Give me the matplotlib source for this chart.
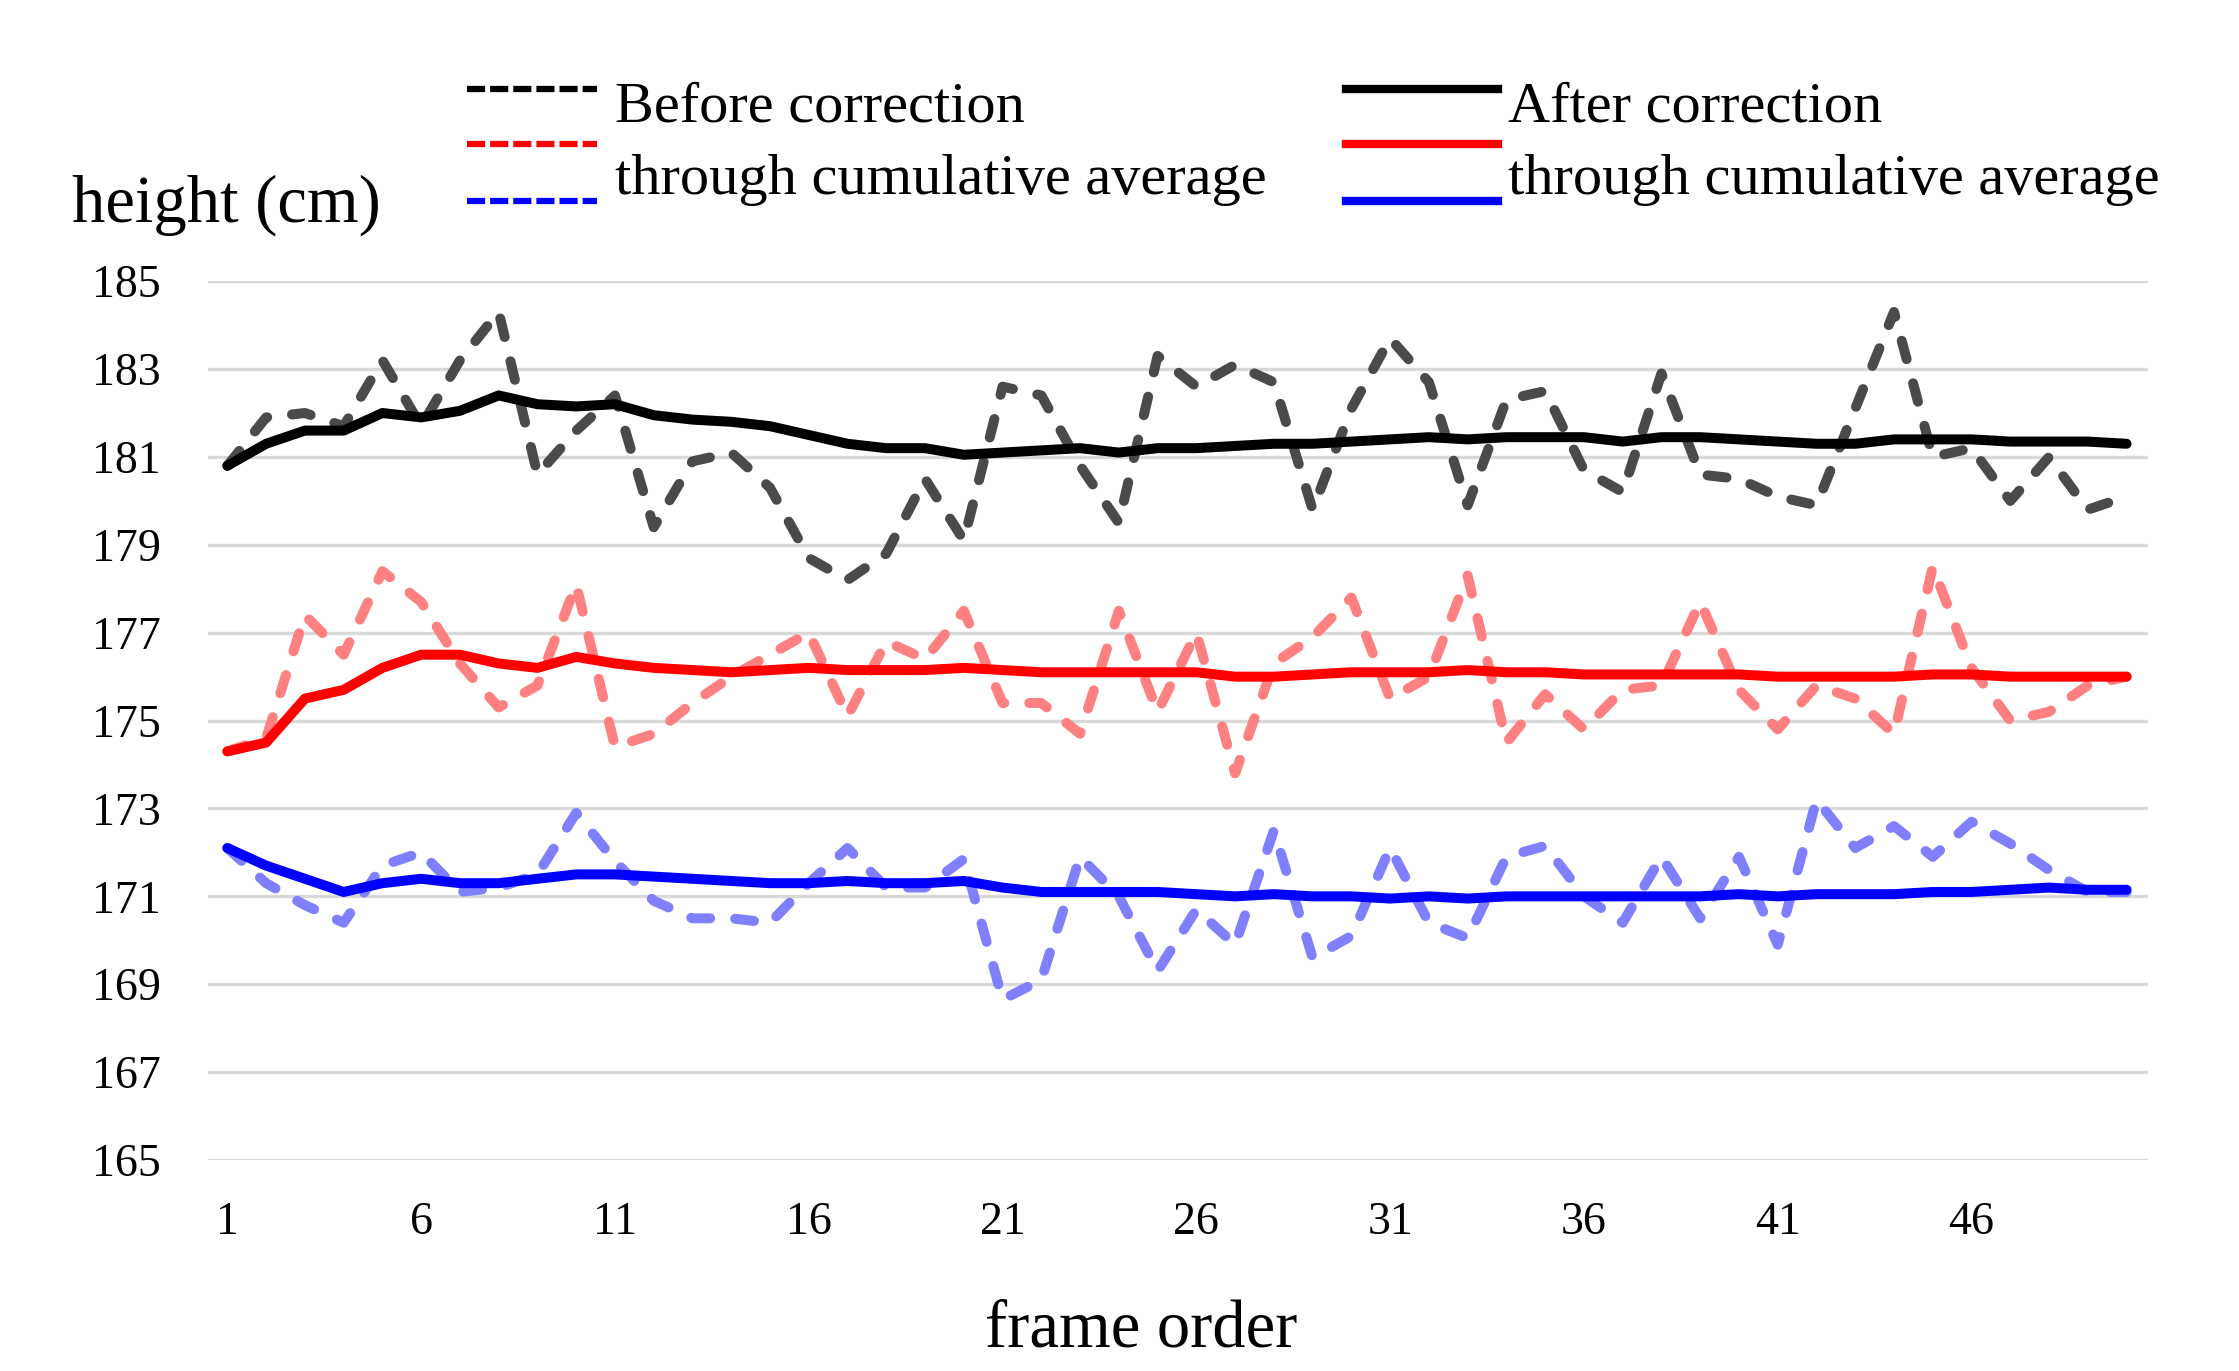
import matplotlib
matplotlib.use("Agg")
import matplotlib.pyplot as plt
from matplotlib.lines import Line2D

plt.rcParams["font.family"] = ["Liberation Serif", "DejaVu Serif"]

# frame numbers 1..50
frames = list(range(1, 51))

# black: before / after correction
black_before = [180.8, 181.9, 182.0, 181.7, 183.2, 181.7, 183.2, 184.3, 180.6, 181.6,
                182.4, 179.4, 180.9, 181.1, 180.3, 178.7, 178.2, 178.8, 180.5, 179.1,
                182.6, 182.4, 180.8, 179.5, 183.3, 182.6, 183.1, 182.7, 179.8, 182.1,
                183.7, 182.7, 179.9, 182.3, 182.5, 180.7, 180.2, 182.9, 180.6, 180.5,
                180.1, 179.9, 182.1, 184.3, 181.0, 181.2, 180.0, 181.0, 179.8, 180.1]
black_after = [180.8, 181.3, 181.6, 181.6, 182.0, 181.9, 182.05, 182.4, 182.2, 182.15,
               182.2, 181.95, 181.85, 181.8, 181.7, 181.5, 181.3, 181.2, 181.2, 181.05,
               181.1, 181.15, 181.2, 181.1, 181.2, 181.2, 181.25, 181.3, 181.3, 181.35,
               181.4, 181.45, 181.4, 181.45, 181.45, 181.45, 181.35, 181.45, 181.45, 181.4,
               181.35, 181.3, 181.3, 181.4, 181.4, 181.4, 181.35, 181.35, 181.35, 181.3]

# red
red_before = [174.3, 174.6, 177.4, 176.5, 178.4, 177.7, 176.3, 175.3, 175.8, 178.1,
              174.4, 174.7, 175.4, 176.0, 176.5, 177.0, 175.1, 176.8, 176.4, 177.5,
              175.4, 175.4, 174.7, 177.5, 175.2, 177.0, 173.8, 176.3, 176.9, 177.8,
              175.5, 176.0, 178.3, 174.5, 175.6, 174.8, 175.7, 175.8, 177.7, 175.7,
              174.8, 175.8, 175.5, 174.7, 178.5, 176.2, 175.0, 175.2, 175.8, 176.0]
red_after = [174.3, 174.5, 175.5, 175.7, 176.2, 176.5, 176.5, 176.3, 176.2, 176.45,
             176.3, 176.2, 176.15, 176.1, 176.15, 176.2, 176.15, 176.15, 176.15, 176.2,
             176.15, 176.1, 176.1, 176.1, 176.1, 176.1, 176.0, 176.0, 176.05, 176.1,
             176.1, 176.1, 176.15, 176.1, 176.1, 176.05, 176.05, 176.05, 176.05, 176.05,
             176.0, 176.0, 176.0, 176.0, 176.05, 176.05, 176.0, 176.0, 176.0, 176.0]

# blue
blue_before = [172.1, 171.3, 170.8, 170.4, 171.7, 172.0, 171.1, 171.2, 171.5, 172.9,
               171.8, 170.9, 170.5, 170.5, 170.4, 171.3, 172.1, 171.2, 171.2, 171.85,
               168.65, 169.1, 171.9, 171.0, 169.3, 170.7, 169.9, 172.5, 169.6, 170.1,
               172.1, 170.4, 170.05, 171.9, 172.15, 171.0, 170.4, 171.9, 170.5, 171.9,
               169.9, 173.2, 172.1, 172.6, 171.9, 172.7, 172.2, 171.6, 171.1, 171.1]
blue_after = [172.1, 171.7, 171.4, 171.1, 171.3, 171.4, 171.3, 171.3, 171.4, 171.5,
              171.5, 171.45, 171.4, 171.35, 171.3, 171.3, 171.35, 171.3, 171.3, 171.35,
              171.2, 171.1, 171.1, 171.1, 171.1, 171.05, 171.0, 171.05, 171.0, 171.0,
              170.95, 171.0, 170.95, 171.0, 171.0, 171.0, 171.0, 171.0, 171.0, 171.05,
              171.0, 171.05, 171.05, 171.05, 171.1, 171.1, 171.15, 171.2, 171.15, 171.15]

y_ticks = list(range(165, 186, 2))
x_ticks = list(range(1, 50, 5))


def main():
    fig = plt.figure(figsize=(22.39, 13.71), dpi=100)
    ax = fig.add_axes([0.0929, 0.1539, 0.8664, 0.641])

    # dashed "before" curves (lighter tints)
    dash_kw = dict(linewidth=7.2, dashes=(1.9, 2.5), dash_capstyle="round",
                   solid_capstyle="round")
    ax.plot(frames, black_before, color="#4a4a4a", **dash_kw)
    ax.plot(frames, red_before, color="#ff8080", **dash_kw)
    ax.plot(frames, blue_before, color="#8080ff", **dash_kw)

    # solid "after" curves
    ax.plot(frames, black_after, color="#000000", linewidth=7.2, solid_capstyle="round")
    ax.plot(frames, red_after, color="#ff0000", linewidth=7.2, solid_capstyle="round")
    ax.plot(frames, blue_after, color="#0000ff", linewidth=7.2, solid_capstyle="round")

    ax.set_xlim(0.5, 50.55)
    ax.set_ylim(165, 185)
    ax.set_yticks(y_ticks)
    ax.set_xticks(x_ticks)
    ax.tick_params(axis="both", length=0, labelsize=33)
    ax.tick_params(axis="y", pad=34)
    ax.tick_params(axis="x", pad=30)
    ax.grid(axis="y", color="#d9d9d9", linewidth=2.4)
    ax.set_axisbelow(True)
    for s in ax.spines.values():
        s.set_visible(False)

    H = 1371.0
    W = 2239.0

    # axis titles
    fig.text(1141 / W, 1 - 1330 / H, "frame order", fontsize=48, ha="center", va="center")
    fig.text(0.032, 1 - 205 / H, "height (cm)", fontsize=48, va="center", ha="left")

    # legend drawn by hand in figure pixels
    rows = [89, 144, 201]
    cols = ["#000000", "#ff0000", "#0000ff"]
    for y, c in zip(rows, cols):
        fig.add_artist(Line2D([467 / W, 597 / W], [1 - y / H, 1 - y / H], color=c,
                              linewidth=4.5, dashes=(2.9, 0.8), dash_capstyle="butt"))
        fig.add_artist(Line2D([1346 / W, 1498 / W], [1 - y / H, 1 - y / H], color=c,
                              linewidth=6))
    fig.text(615 / W, 1 - 108 / H, "Before correction", fontsize=42, va="center")
    fig.text(615 / W, 1 - 180 / H, "through cumulative average", fontsize=42, va="center")
    fig.text(1508 / W, 1 - 108 / H, "After correction", fontsize=42, va="center")
    fig.text(1508 / W, 1 - 180 / H, "through cumulative average", fontsize=42, va="center")

    fig.savefig("out.png", dpi=100, facecolor="white")


if __name__ == "__main__":
    main()
